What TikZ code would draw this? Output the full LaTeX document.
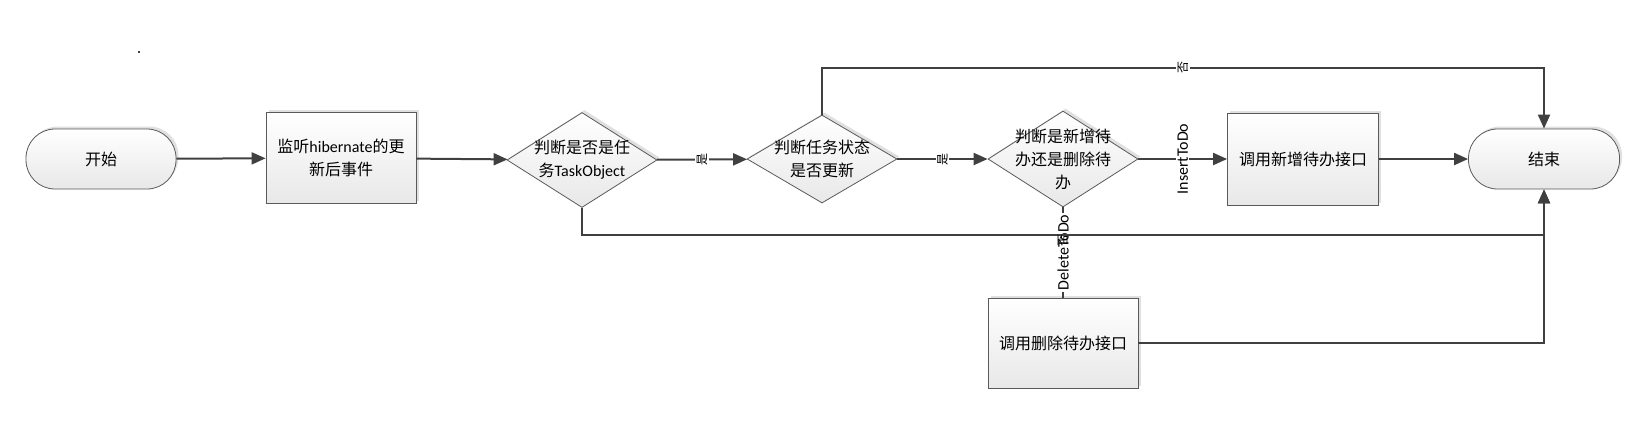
\documentclass[tikz,border=0pt]{standalone}
\usepackage{fontspec}
\setmainfont{Carlito}
\newfontfamily\cjk{Noto Sans CJK SC}
\usetikzlibrary{arrows.meta,shapes.geometric,shadows}
\definecolor{ln}{RGB}{64,64,64}
\definecolor{bd}{RGB}{90,90,90}
\definecolor{fillc}{RGB}{232,232,232}
\begin{document}
\begin{tikzpicture}[x=1pt,y=-1pt,
  base/.style={draw=bd, line width=0.8pt, top color=white, bottom color=fillc,
    drop shadow={shadow xshift=2.5pt,shadow yshift=2.5pt,fill=black!12,opacity=1},
    font=\fontsize{16}{23}\selectfont, align=center},
  term/.style={base, rounded corners=29pt, minimum width=150pt, minimum height=60pt},
  proc/.style={base, minimum width=150pt, minimum height=91pt},
  dia/.style={base, diamond, minimum width=150pt, minimum height=95pt, inner sep=0pt},
  conn/.style={draw=ln, line width=2pt, -{Triangle[length=14pt,width=12pt]}},
  plain/.style={draw=ln, line width=2pt},
  lbl/.style={fill=white, inner sep=1.5pt, rotate=90, font=\fontsize{12}{14}\selectfont},
  lblb/.style={fill=white, inner sep=1.5pt, rotate=90, font=\fontsize{16}{18}\selectfont}
]
\useasboundingbox (0,0) rectangle (1637,424);
\fill[ln] (138,51) rectangle (140,53);

\node[term] (start) at (101,159) {{\cjk 开始}};
\node[proc] (b1) at (341,158) {{\cjk 监听}hibernate{\cjk 的更}\\{\cjk 新后事件}};
\node[dia, minimum height=95pt, label={[name=d1t,align=center,font=\fontsize{16}{23}\selectfont]center:{\cjk 判断是否是任}\\{\cjk 务}TaskObject}] (d1) at (582,160) {};
\node[dia, minimum height=88pt, label={[name=d2t,align=center,font=\fontsize{16}{23}\selectfont]center:{\cjk 判断任务状态}\\{\cjk 是否更新}}] (d2) at (822,159) {};
\node[dia, minimum height=96pt, label={[name=d3t,align=center,font=\fontsize{16}{23}\selectfont]center:{\cjk 判断是新增待}\\{\cjk 办还是删除待}\\{\cjk 办}}] (d3) at (1063,159) {};
\node[proc, minimum height=92pt, minimum width=151pt] (b2) at (1303,159) {{\cjk 调用新增待办接口}};
\node[term, minimum width=151pt] (stop) at (1544,159) {{\cjk 结束}};
\node[proc, minimum height=90pt] (b3) at (1063,343) {{\cjk 调用删除待办接口}};

\draw[conn] (start) -- (b1);
\draw[conn] (b1) -- (d1);
\draw[conn] (d1) -- node[lbl]{\cjk 是} (d2);
\draw[conn] (d2) -- node[lbl]{\cjk 是} (d3);
\draw[conn] (d3) -- node[lblb]{InsertToDo} (b2);
\draw[conn] (b2) -- (stop);
\draw[conn] (d2.north) -- ++(0,-47) -| node[pos=0.25,lbl]{\cjk 否} (stop.north);
\draw[plain] (d3.south) -- node[lblb]{DeleteToDo} (b3.north);
\draw[conn] (d1.south) -- ++(0,27) -| node[pos=0.25,lbl,fill=none,xshift=-6pt]{\cjk 否} (stop.south);
\draw[conn] (b3.east) -| (stop.south);
\end{tikzpicture}
\end{document}
